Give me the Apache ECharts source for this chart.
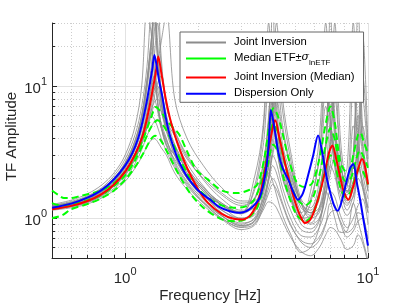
<!DOCTYPE html>
<html><head><meta charset="utf-8">
<script src="https://cdn.jsdelivr.net/npm/echarts@6/dist/echarts.min.js"></script>
<style>html,body{margin:0;padding:0;background:#fff}#c{width:407px;height:305px}</style>
</head><body><div id="c"></div>
<script>
// shared frequency grid (Hz) for the Joint Inversion ensemble
const freqGrid = [0.5,0.6,0.7,0.8,0.9,1.0,1.1,1.17,1.23,1.28,1.32,1.36,1.41,1.48,
  1.6,1.8,2.1,2.5,3.0,3.4, 3.7,3.9,4.05,4.2,4.45,4.8, 5.3,5.8,6.3,6.7,7.0,7.3, 7.7,8.2,8.7,9.1,9.5,10];

// Joint Inversion ensemble (TF amplitude on freqGrid)
const joint = [
 [1.22,1.30,1.43,1.63,1.97,2.55,3.7,5.6,10,20,48,22,9,5.5, 4.2,2.8,2.0,1.5,1.25,1.4, 2.6,5.5,40,9,3.6,2.2, 1.3,1.15,1.6,3.5,35,6, 2.4,1.9,3,40,5,2.5],
 [1.25,1.34,1.48,1.7,2.1,2.8,4.3,7,14,35,16,8,5,3.8, 3.0,2.2,1.6,1.25,1.08,1.7, 4.5,20,7,3.5,2.0,1.4, 1.0,1.3,3.0,15,5,2.6, 1.6,1.7,10,3.2,1.8,1.2],
 [1.18,1.25,1.35,1.52,1.8,2.25,3.1,4.2,6.3,10,17,30,14,7, 4.5,2.9,1.95,1.4,1.15,1.2, 1.6,2.6,5,12,5,2.5, 1.3,1.0,1.1,1.8,3.5,12, 3,1.6,1.7,3,8,2.8],
 [1.2,1.27,1.38,1.57,1.87,2.35,3.3,4.6,7,10,12,9.5,6.5,4.5, 3.0,2.0,1.5,1.15,0.98,1.1, 1.7,3.2,6,4.2,2.3,1.5, 1.0,0.92,1.2,2.2,5,3.2, 1.8,1.35,1.9,3.5,2.6,1.6],
 [1.17,1.23,1.33,1.49,1.75,2.15,2.9,3.8,5.2,6.5,7.6,8,6.3,4.8, 3.0,2.0,1.42,1.05,0.88,0.95, 1.3,2.0,3,2.6,1.7,1.15, 0.82,0.78,0.95,1.5,2.5,2.1, 1.35,1.05,1.3,2,1.7,1.1],
 [1.15,1.2,1.28,1.42,1.62,1.9,2.4,2.9,3.5,3.9,4.0,3.8,3.4,3.0, 2.2,1.65,1.25,0.98,0.82,0.88, 1.15,1.33,1.3,1.2,0.95,0.72, 0.56,0.52,0.6,0.75,0.85,0.82, 0.7,0.58,0.62,0.75,0.65,0.45],
 [1.16,1.22,1.31,1.46,1.68,2.0,2.6,3.3,4.2,4.9,5.4,5.6,4.8,3.9, 2.6,1.85,1.32,1.0,0.85,0.9, 1.2,1.55,1.8,1.65,1.25,0.88, 0.68,0.64,0.72,0.92,1.1,1.15, 0.95,0.78,0.85,1.1,1.05,0.7],
 [1.23,1.32,1.45,1.66,2.0,2.6,3.9,6,11,18,13,7.5,4.8,3.5, 2.8,2.0,1.48,1.15,1.0,1.12, 1.8,3.2,8,30,8,3.2, 1.4,1.2,1.9,7,4.5,2.4, 1.5,1.25,1.8,4,25,3.5],
 [1.2,1.26,1.37,1.55,1.82,2.25,3.0,3.9,5.2,7,9.5,14,22,35, 8,4,2.5,1.7,1.35,1.35, 1.7,2.4,4,8,4.5,2.4, 1.35,1.1,1.2,1.9,4.5,30, 4,1.8,1.7,2.8,5,2.5],
 [1.24,1.32,1.46,1.67,2.02,2.65,3.9,6,11,22,35,17,8,5, 3.6,2.4,1.7,1.3,1.1,1.6, 3.5,9,6.5,3.6,2.1,1.45, 1.0,1.05,1.6,3.4,10,4, 2.0,1.8,5,2.8,1.7,1.1],
 [1.27,1.37,1.53,1.78,2.2,3.0,5.0,10,38,25,12,7.5,5,3.6, 3.0,2.2,1.6,1.26,1.1,1.35, 2.5,6,14,6,2.8,2.0, 1.2,1.1,1.6,3.8,20,4.5, 2.1,1.6,3.2,12,3.5,1.8],
 [1.19,1.26,1.36,1.54,1.82,2.25,3.1,4.2,6.2,9,12.5,14,9.5,6, 3.6,2.4,1.7,1.3,1.12,1.2, 1.6,2.6,5.5,18,6.5,2.8, 1.3,1.05,1.15,1.9,3.8,8, 3,1.6,1.9,4,12,3.2],
 [1.21,1.29,1.41,1.6,1.93,2.45,3.5,5.2,9.5,18,32,16,7.5,4.8, 3.4,2.3,1.65,1.27,1.08,1.25, 2.0,4.3,10,5.2,2.5,1.6, 1.1,1.4,2.8,9,5.5,2.7, 1.7,1.5,2.6,6,3,1.6],
 [1.18,1.24,1.34,1.51,1.78,2.2,2.95,3.9,5.6,7.6,9.5,10,7.2,5.0, 3.2,2.1,1.5,1.1,0.92,0.98, 1.3,1.9,2.5,2.2,1.5,1.0, 0.74,0.72,0.85,1.2,1.6,1.45, 1.05,0.85,1.0,1.25,1.4,0.9],
 [1.21,1.28,1.4,1.59,1.92,2.45,3.5,4.9,7.2,9,8.2,6.5,4.8,3.6, 2.5,1.8,1.33,1.04,0.9,1.0, 1.4,2.1,3.0,4,2.6,1.5, 0.9,0.83,0.98,1.5,2.2,3, 1.7,1.15,1.5,2.4,1.9,1.2],
 [1.17,1.23,1.33,1.5,1.76,2.15,2.85,3.7,4.9,6.4,8.3,10.5,12,7.5, 4.2,2.6,1.75,1.25,1.0,1.05, 1.38,2.0,3.3,5,3.3,1.9, 1.1,0.9,1.0,1.6,2.6,4, 2.2,1.3,1.45,2.2,3,1.7],
 [1.23,1.31,1.44,1.65,1.99,2.6,3.8,5.8,11,22,38,17,7.5,4.6, 3.4,2.3,1.65,1.25,1.1,2.0, 5,30,7,3.5,2.0,1.35, 1.0,1.6,4,30,6,2.8, 1.9,2.4,30,4,2.2,1.4],
 [1.2,1.28,1.39,1.58,1.9,2.4,3.4,4.9,8,14,26,45,16,7, 4.6,3.0,2.1,1.55,1.3,1.4, 2.2,5.5,22,7,3.0,2.1, 1.3,1.1,1.4,3.4,14,5, 2.2,1.55,2.8,18,4,1.9],
 [1.17,1.23,1.32,1.48,1.74,2.1,2.8,3.6,4.8,6,7,6.6,5.2,4.0, 2.7,1.9,1.38,1.04,0.88,0.93, 1.22,1.7,2.0,1.8,1.3,0.9, 0.66,0.6,0.68,0.9,1.3,1.25, 0.92,0.72,0.8,0.95,1.0,0.55],
 [1.19,1.25,1.35,1.52,1.8,2.2,2.95,3.8,4.9,6,5.6,4.9,4.0,3.2, 2.4,1.75,1.3,1.0,0.86,0.95, 1.5,2.2,1.9,1.5,1.05,0.76, 0.55,0.6,0.85,1.6,1.35,1.0, 0.78,0.8,1.3,0.95,0.7,0.48]
];

// Median ETF +/- sigma  [freq, amplitude]
const etfPlus = [[0.5,1.62],[0.53,1.5],[0.56,1.42],[0.6,1.42],[0.65,1.47],[0.7,1.52],[0.8,1.62],[0.9,1.85],[1.0,2.25],[1.1,2.95],[1.2,4.2],[1.28,5.8],[1.34,6.95],[1.42,6.2],[1.55,5.0],[1.67,4.3],[1.8,3.2],[1.97,2.3],[2.2,1.95],[2.5,1.62],[2.9,1.55],[3.2,1.62],[3.5,1.8],[3.75,2.9],[3.95,5.5],[4.07,6.8],[4.2,6.3],[4.35,5.2],[4.7,2.87],[5.1,1.85],[5.5,1.72],[5.9,1.85],[6.3,2.8],[6.7,5.2],[7.0,7.0],[7.3,5.3],[7.66,2.75],[8.0,2.3],[8.3,2.2],[8.7,3.0],[9.1,4.3],[9.3,4.45],[9.6,3.8],[10,3.08]];
const etfMedian = [[0.5,1.3],[0.55,1.24],[0.6,1.27],[0.7,1.37],[0.8,1.5],[0.9,1.75],[1.0,2.1],[1.1,2.75],[1.2,3.8],[1.28,4.9],[1.36,5.5],[1.45,4.9],[1.55,3.9],[1.7,2.7],[1.9,1.85],[2.2,1.42],[2.5,1.25],[2.8,1.2],[3.1,1.22],[3.4,1.38],[3.7,2.1],[3.9,3.6],[4.07,5.2],[4.25,4.5],[4.5,2.8],[4.8,1.8],[5.1,1.4],[5.5,1.25],[5.9,1.4],[6.3,2.1],[6.7,3.6],[7.0,4.8],[7.3,3.9],[7.7,2.3],[8.1,1.9],[8.5,2.0],[8.9,2.7],[9.25,3.25],[9.6,2.9],[10,2.4]];
const etfMinus = [[0.5,1.0],[0.55,1.05],[0.6,1.17],[0.7,1.28],[0.8,1.42],[0.9,1.62],[1.0,1.95],[1.1,2.45],[1.2,3.2],[1.27,3.9],[1.33,4.2],[1.4,3.9],[1.5,3.1],[1.65,2.2],[1.85,1.55],[2.1,1.2],[2.5,0.98],[2.9,0.95],[3.2,1.0],[3.5,1.2],[3.75,1.9],[3.95,3.1],[4.07,3.6],[4.25,3.2],[4.5,2.0],[4.8,1.35],[5.1,1.05],[5.5,0.95],[5.9,1.05],[6.3,1.5],[6.7,2.4],[7.0,3.0],[7.3,2.6],[7.7,1.7],[8.1,1.45],[8.5,1.6],[8.9,2.1],[9.25,2.4],[9.6,2.2],[10,1.8]];

// Joint Inversion (Median)
const jointMedian = [[0.5,1.17],[0.6,1.24],[0.7,1.35],[0.8,1.52],[0.9,1.8],[1.0,2.25],[1.1,3.05],[1.18,4.2],[1.25,6.5],[1.3,9.5],[1.34,13],[1.37,16.7],[1.41,12.5],[1.47,8],[1.55,5.2],[1.65,3.6],[1.8,2.4],[2.0,1.65],[2.2,1.3],[2.5,1.08],[2.8,0.99],[3.05,0.98],[3.3,1.07],[3.55,1.4],[3.75,2.2],[3.95,3.8],[4.1,5.3],[4.15,5.5],[4.3,4.2],[4.53,2.72],[4.8,1.75],[5.0,1.35],[5.25,1.05],[5.5,0.92],[5.8,0.98],[6.2,1.35],[6.6,2.1],[6.9,3.1],[7.14,3.55],[7.4,2.8],[7.9,1.65],[8.3,1.38],[8.7,1.75],[9.1,2.35],[9.45,2.8],[9.7,2.5],[10,1.8]];

// Dispersion Only
const dispersionOnly = [[0.5,1.2],[0.6,1.29],[0.7,1.43],[0.8,1.63],[0.9,1.97],[1.0,2.5],[1.07,3.1],[1.13,4.0],[1.18,5.4],[1.22,7.2],[1.26,10],[1.29,13],[1.32,17.2],[1.35,14],[1.38,11],[1.42,8.5],[1.47,5.8],[1.52,4.4],[1.57,3.6],[1.65,2.8],[1.75,2.25],[1.84,1.95],[2.0,1.62],[2.22,1.4],[2.44,1.22],[2.7,1.13],[2.96,1.1],[3.25,1.17],[3.58,1.43],[3.8,2.3],[3.9,3.6],[3.98,6.6],[4.06,5.6],[4.16,4.3],[4.28,3.1],[4.45,2.4],[4.7,1.95],[4.95,1.55],[5.15,1.38],[5.4,1.55],[5.7,2.2],[5.95,3.0],[6.23,4.23],[6.45,3.3],[6.75,2.05],[7.0,1.55],[7.25,1.25],[7.5,1.14],[7.8,1.35],[8.1,1.8],[8.45,2.4],[8.7,2.57],[9.0,1.85],[9.3,1.35],[9.6,0.95],[10,0.62]];

// ticks
const xMajorTicks = [1, 10];
const xMinorTicks = [0.6,0.7,0.8,0.9,2,3,4,5,6,7,8,9];
const yMajorTicks = [1, 10];
const yMinorTicks = [0.6,0.7,0.8,0.9,2,3,4,5,6,7,8,9,20,30];

const FONT = 'Liberation Sans, Arial, Helvetica, sans-serif';
const AX = '#262626';
const chart = echarts.init(document.getElementById('c'), null, {renderer:'canvas'});

function supLabel(v){ const e = Math.round(Math.log10(v)); return '{b|10}{s|' + e + '}'; }
const richSup = {
  b:{fontSize:15, lineHeight:20, verticalAlign:'bottom', fontFamily:FONT, color:AX},
  s:{fontSize:11, lineHeight:10, verticalAlign:'top', fontFamily:FONT, color:AX}
};

function majorAxis(ticks, isX){
  return {
    type:'log', logBase:10, min:0.5, max: isX ? 10 : 30, gridIndex:0,
    position: isX ? 'bottom' : 'left',
    axisLine:{show:true, lineStyle:{color:AX, width:1}},
    axisTick:{show:true, inside:true, length:5, customValues:ticks, lineStyle:{color:AX, width:1}},
    axisLabel:{show:true, customValues:ticks, formatter:supLabel, rich:richSup, margin: isX ? 8 : 5},
    splitLine:{show:true, lineStyle:{color:'#e2e2e2', width:1}},
    minorTick:{show:false}, minorSplitLine:{show:false},
    name: isX ? 'Frequency [Hz]' : 'TF Amplitude',
    nameLocation:'middle', nameGap: isX ? 30 : 33, nameMoveOverlap:false,
    nameTextStyle: isX ? {fontSize:15, fontFamily:FONT, color:AX}
                       : {fontSize:15, fontFamily:FONT, color:AX, padding:[0,0,0,8]}
  };
}
function minorAxis(ticks, isX){
  return {
    type:'log', logBase:10, min:0.5, max: isX ? 10 : 30, gridIndex:0,
    position: isX ? 'bottom' : 'left',
    axisLine:{show:false},
    axisTick:{show:true, inside:true, length:3, customValues:ticks, lineStyle:{color:AX, width:1}},
    axisLabel:{show:false},
    splitLine:{show:true, lineStyle:{color:'#cdcdcd', width:1, type:[1,2]}}
  };
}

const GRAY = '#8c8c8c';
const series = [];
joint.forEach(vals => {
  series.push({type:'line', name:'Joint Inversion', symbol:'none', smooth:0.35, silent:true,
    data: vals.map((v,i) => [freqGrid[i], v]),
    lineStyle:{color:GRAY, width:0.8}, itemStyle:{color:GRAY}});
});
[etfPlus, etfMedian, etfMinus].forEach(d => {
  series.push({type:'line', name:'Median ETF', symbol:'none', smooth:0.3, silent:true, data:d,
    lineStyle:{color:'#00ff00', width:2, type:[7,4]}, itemStyle:{color:'#00ff00'}});
});
series.push({type:'line', name:'Joint Inversion (Median)', symbol:'none', smooth:0.3, silent:true, data:jointMedian,
  lineStyle:{color:'#ff0000', width:2}, itemStyle:{color:'#ff0000'}});
series.push({type:'line', name:'Dispersion Only', symbol:'none', smooth:0.3, silent:true, data:dispersionOnly,
  lineStyle:{color:'#0000ff', width:2}, itemStyle:{color:'#0000ff'}});

chart.setOption({
  animation:false,
  backgroundColor:'#fff',
  grid:{left:52, right:39, top:23, bottom:47, containLabel:false, outerBoundsMode:'none'},
  xAxis:[majorAxis(xMajorTicks, true), minorAxis(xMinorTicks, true)],
  yAxis:[majorAxis(yMajorTicks, false), minorAxis(yMinorTicks, false)],
  legend:{
    orient:'vertical', left:180, top:32,
    data:[{name:'Joint Inversion'},{name:'Median ETF', lineStyle:{type:'solid'}},{name:'Joint Inversion (Median)'},{name:'Dispersion Only'}],
    itemWidth:40, itemHeight:14, itemGap:4, padding:[4,9,3,5],
    itemStyle:{color:'rgba(0,0,0,0)', borderColor:'rgba(0,0,0,0)', borderWidth:0, opacity:0},
    backgroundColor:'#fff', borderColor:'#666', borderWidth:1, borderRadius:0,
    selectedMode:false,
    textStyle:{fontSize:11, fontFamily:FONT, color:'#000',
      rich:{
        t:{fontSize:11.3, fontFamily:FONT, color:'#000', lineHeight:13, verticalAlign:'top', padding:[0,0,0,3]},
        p:{fontSize:11, fontFamily:FONT, color:'#000', lineHeight:13, verticalAlign:'top'},
        g:{fontSize:11, fontFamily:'DejaVu Serif, serif', fontStyle:'italic', color:'#000', lineHeight:13, verticalAlign:'top'},
        sub:{fontSize:8, fontFamily:FONT, color:'#000', lineHeight:8, padding:[7,0,0,0], verticalAlign:'top'}
      }},
    formatter: name => name === 'Median ETF' ? '{t|Median ETF}{p|±}{g|σ}{sub|lnETF}' : '{t|' + name + '}'
  },
  series: series
});
</script></body></html>
